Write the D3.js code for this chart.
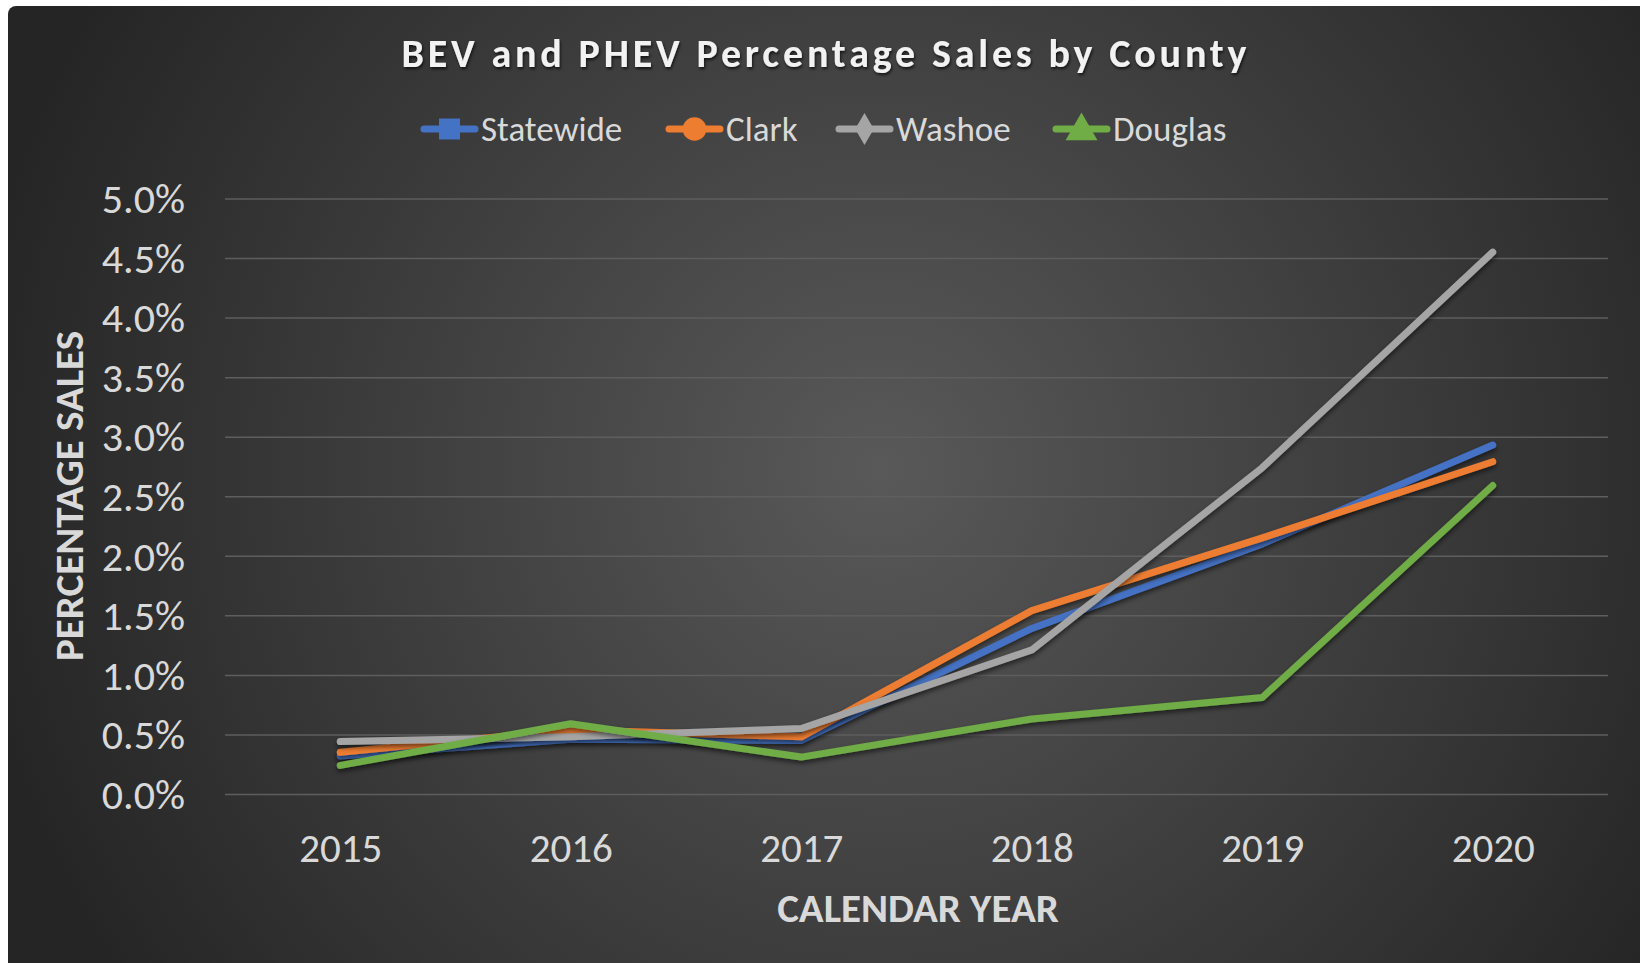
<!DOCTYPE html>
<html>
<head>
<meta charset="utf-8">
<script src="https://cdn.jsdelivr.net/npm/d3@7"></script>
<style>
  html, body { margin: 0; padding: 0; background: #fff; }
  svg { display: block; }
  text { font-family: Carlito, Calibri, Lato, sans-serif; }
</style>
</head>
<body>
<svg id="chart"></svg>
<script>
// values, in percent
const years = ['2015', '2016', '2017', '2018', '2019', '2020'];
const statewide = [0.32, 0.46, 0.45, 1.39, 2.10, 2.93];
const clark = [0.35, 0.54, 0.48, 1.54, 2.15, 2.79];
const washoe = [0.44, 0.48, 0.55, 1.21, 2.74, 4.55];
const douglas = [0.24, 0.59, 0.31, 0.63, 0.81, 2.59];
const yTicks = [0, 0.5, 1, 1.5, 2, 2.5, 3, 3.5, 4, 4.5, 5];

const seriesNames = ['Statewide', 'Clark', 'Washoe', 'Douglas'];
const seriesColors = ['#4472C4', '#ED7D31', '#A5A5A5', '#70AD47'];

const series = [statewide, clark, washoe, douglas].map((values, i) => ({
  name: seriesNames[i],
  color: seriesColors[i],
  values
}));

const width = 1640;
const height = 963;
const plot = { left: 225, right: 1608, top: 198.5, bottom: 794 };

const svg = d3.select('#chart')
  .attr('width', width)
  .attr('height', height);

const defs = svg.append('defs');

const bg = defs.append('radialGradient')
  .attr('id', 'bgGrad')
  .attr('gradientUnits', 'userSpaceOnUse')
  .attr('cx', 880)
  .attr('cy', 470)
  .attr('r', 920);
bg.append('stop').attr('offset', '0%').attr('stop-color', '#595959');
bg.append('stop').attr('offset', '100%').attr('stop-color', '#252525');

const shadow = defs.append('filter')
  .attr('id', 'lineShadow')
  .attr('x', '-10%').attr('y', '-10%')
  .attr('width', '120%').attr('height', '130%');
shadow.append('feDropShadow')
  .attr('dx', 0)
  .attr('dy', 3)
  .attr('stdDeviation', 2.5)
  .attr('flood-color', '#000')
  .attr('flood-opacity', 0.55);

const titleShadow = defs.append('filter').attr('id', 'textShadow');
titleShadow.append('feDropShadow')
  .attr('dx', 1)
  .attr('dy', 2)
  .attr('stdDeviation', 1.5)
  .attr('flood-color', '#000')
  .attr('flood-opacity', 0.7);

svg.append('rect')
  .attr('x', 8)
  .attr('y', 6)
  .attr('width', width + 40)
  .attr('height', height + 40)
  .attr('rx', 8)
  .attr('fill', 'url(#bgGrad)');

const x = d3.scalePoint()
  .domain(years)
  .range([plot.left, plot.right])
  .padding(0.5);

const y = d3.scaleLinear()
  .domain([0, 5])
  .range([plot.bottom, plot.top]);

// y axis + gridlines
const yAxis = svg.append('g')
  .attr('transform', `translate(${plot.left},0)`)
  .call(d3.axisLeft(y)
    .tickValues(yTicks)
    .tickSize(-(plot.right - plot.left))
    .tickPadding(40)
    .tickFormat(d => d.toFixed(1) + '%'));

yAxis.select('.domain').remove();
yAxis.selectAll('.tick line')
  .attr('stroke', '#5e5e5e')
  .attr('stroke-width', 1.5);
yAxis.selectAll('.tick text')
  .attr('fill', '#d9d9d9')
  .attr('font-size', 42)
  .attr('dy', '0.34em');

// x axis
const xAxis = svg.append('g')
  .attr('transform', `translate(0,${plot.bottom})`)
  .call(d3.axisBottom(x).tickSize(0));

xAxis.select('.domain').remove();
xAxis.selectAll('.tick text')
  .attr('fill', '#d9d9d9')
  .attr('font-size', 41)
  .attr('y', 68)
  .attr('dy', 0);

// lines
const line = d3.line()
  .x((d, i) => x(years[i]))
  .y(d => y(d));

svg.append('g')
  .selectAll('path')
  .data(series)
  .join('path')
  .attr('d', d => line(d.values))
  .attr('fill', 'none')
  .attr('stroke', d => d.color)
  .attr('stroke-width', 7)
  .attr('stroke-linecap', 'round')
  .attr('stroke-linejoin', 'round')
  .attr('filter', 'url(#lineShadow)');

// title
svg.append('text')
  .attr('x', 824)
  .attr('y', 67)
  .attr('text-anchor', 'middle')
  .attr('fill', '#f2f2f2')
  .attr('font-size', 40)
  .attr('font-weight', 'bold')
  .attr('textLength', 845)
  .attr('lengthAdjust', 'spacing')
  .attr('filter', 'url(#textShadow)')
  .text('BEV and PHEV Percentage Sales by County');

// axis titles
svg.append('text')
  .attr('x', 918)
  .attr('y', 922)
  .attr('text-anchor', 'middle')
  .attr('fill', '#d9d9d9')
  .attr('font-size', 41)
  .attr('font-weight', 'bold')
  .text('CALENDAR YEAR');

svg.append('text')
  .attr('transform', 'translate(83,496) rotate(-90)')
  .attr('text-anchor', 'middle')
  .attr('fill', '#d9d9d9')
  .attr('font-size', 41)
  .attr('font-weight', 'bold')
  .text('PERCENTAGE SALES');

// legend
const legendX = [421, 666, 836, 1053];
const legend = svg.append('g')
  .selectAll('g')
  .data(series)
  .join('g')
  .attr('transform', (d, i) => `translate(${legendX[i]},129)`);

legend.append('line')
  .attr('x1', 3)
  .attr('x2', 54)
  .attr('stroke', d => d.color)
  .attr('stroke-width', 7)
  .attr('stroke-linecap', 'round');

const markerTypes = [d3.symbolSquare, d3.symbolCircle, d3.symbolDiamond, d3.symbolTriangle];
legend.append('path')
  .attr('transform', (d, i) => `translate(28.5,${i === 3 ? 2 : 0})`)
  .attr('d', (d, i) => d3.symbol().type(markerTypes[i]).size(i === 2 ? 300 : 440)())
  .attr('fill', d => d.color);

legend.append('text')
  .attr('x', 60)
  .attr('y', 12)
  .attr('fill', '#d9d9d9')
  .attr('font-size', 35)
  .text(d => d.name);
</script>
</body>
</html>
